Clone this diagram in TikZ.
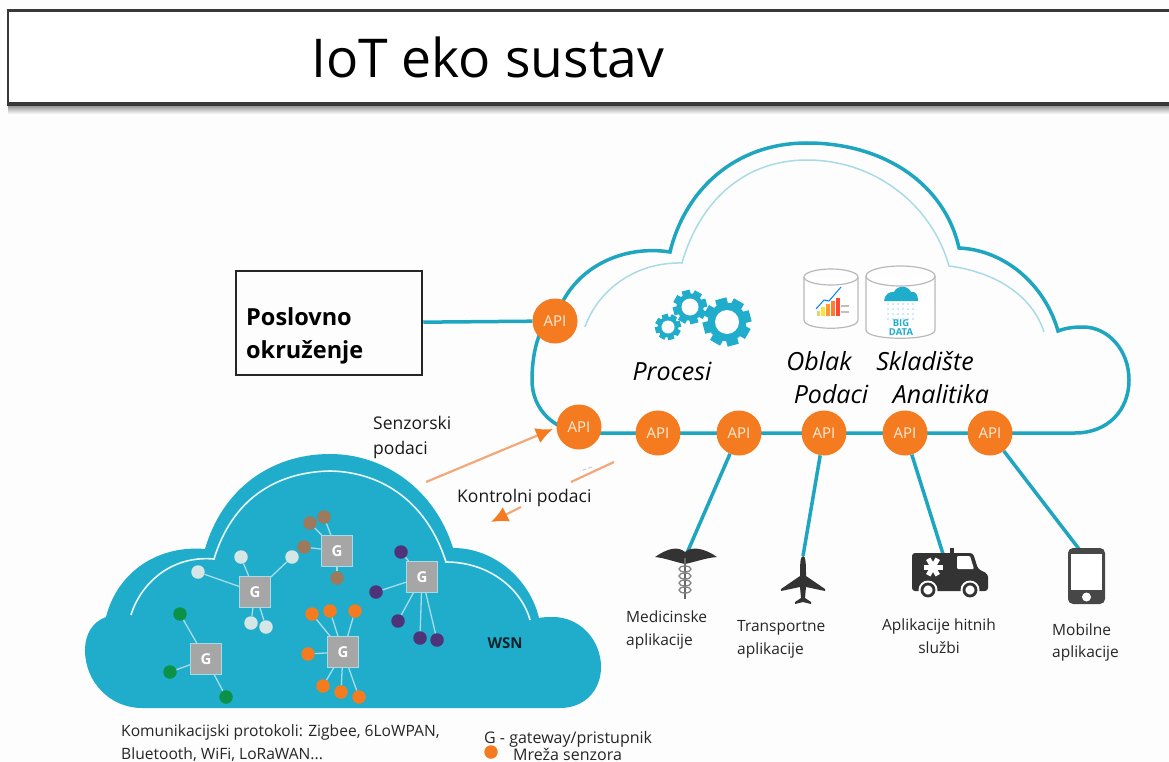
\documentclass[tikz,border=0pt]{standalone}
\usepackage{fontspec}
\setmainfont{Open Sans}
\usetikzlibrary{arrows.meta}
\definecolor{bgc}{HTML}{FDFDFD}
\definecolor{tealc}{HTML}{1EA5BF}
\definecolor{cloudc}{HTML}{1FADCB}
\definecolor{innerc}{HTML}{A9DBE6}
\definecolor{orangec}{HTML}{F47B20}
\definecolor{peachc}{HTML}{F2A878}
\definecolor{gatec}{HTML}{A6A6A6}
\definecolor{linkc}{HTML}{A8DCE8}
\definecolor{brownc}{HTML}{9C7A5B}
\definecolor{palec}{HTML}{D5E6E6}
\definecolor{purplec}{HTML}{4F3378}
\definecolor{greenc}{HTML}{0B9248}
\definecolor{darkc}{HTML}{333333}
\tikzset{
  apinode/.style={circle,fill=orangec,minimum size=45pt,inner sep=0pt,text=white!85!orange,font=\fontsize{15}{15}\selectfont},
  gate/.style={rectangle,fill=gatec,draw=innerc,line width=0.8pt,minimum size=31pt,inner sep=0pt,text=white,font=\fontsize{15}{15}\selectfont\bfseries},
  sensor/.style={circle,minimum size=13.5pt,inner sep=0pt},
  link/.style={draw=linkc,line width=1.3pt},
  appline/.style={draw=tealc,line width=3.5pt},
  label/.style={anchor=base west,inner sep=0pt,text=black!85,font=\fontsize{15.5}{15.5}\selectfont},
  clabel/.style={anchor=base,inner sep=0pt,text=black!85,font=\fontsize{15.5}{15.5}\selectfont},
  biglabel/.style={anchor=base west,inner sep=0pt,text=black!90,font=\fontsize{17.5}{17.5}\selectfont},
  cloudlabel/.style={anchor=base,inner sep=0pt,font=\fontsize{25}{25}\selectfont\itshape},
  boxlabel/.style={anchor=base west,inner sep=0pt,font=\fontsize{23.5}{23.5}\selectfont\bfseries},
  db/.style={draw=gray!55,line width=1.2pt},
  flow/.style={draw=peachc,line width=2.2pt},
  tiphead/.style={-{Latex[length=17pt,width=16pt,color=orangec]}},
}
\newcommand{\gearicon}[3]{%
  \begin{scope}[shift={(#1,#2)},scale=#3]
    \foreach \a in {0,45,...,315}{\fill[cloudc,rotate=\a+15] (-0.24,0.7) rectangle (0.24,1);}
    \fill[cloudc] (0,0) circle (0.8);
    \fill[bgc] (0,0) circle (0.5);
  \end{scope}}
\begin{document}
\begin{tikzpicture}[x=1pt,y=-1pt]
\useasboundingbox (0,0) rectangle (1169,762);
\fill[bgc] (0,0) rectangle (1169,762);
% title band
\shade[top color=black!45,bottom color=bgc] (8,105) rectangle (1169,114);
\fill[black!78] (7,9) rectangle (1169,106);
\fill[white] (9,12.5) rectangle (1169,102);
\node[anchor=base west,inner sep=0pt,font=\fontsize{53.5}{53.5}\selectfont] (title) at (311,78) {IoT eko sustav};
% upper cloud
\draw[tealc,line width=3.5pt] (590,433) -- (1075,433) .. controls (1108,433) and (1129,410) .. (1129,380) .. controls (1129,350) and (1108,327) .. (1083,327) .. controls (1073,327) and (1066,328) .. (1058,331) .. controls (1045,285) and (1005,250) .. (959,248) .. controls (945,185) and (885,143) .. (807,143) .. controls (735,143) and (685,190) .. (670,252) .. controls (625,245) and (580,265) .. (561,305) .. controls (540,320) and (532,350) .. (532,380) .. controls (532,410) and (555,433) .. (590,433);
\draw[innerc,line width=1.5pt] (585,327) .. controls (598,290) and (635,262) .. (682,263) .. controls (700,200) and (745,160) .. (807,160) .. controls (875,160) and (932,205) .. (949,266) .. controls (995,272) and (1032,295) .. (1044,332);
% lower cloud
\fill[cloudc] (142,708) -- (560,708) .. controls (585,708) and (601,690) .. (601,667) .. controls (601,640) and (580,617) .. (553,617) .. controls (548,617) and (543,617) .. (539,618) .. controls (530,580) and (495,548) .. (453,548) .. controls (435,490) and (385,454) .. (330,454) .. controls (270,454) and (222,490) .. (205,549) .. controls (160,545) and (118,570) .. (106,617) .. controls (92,622) and (85,635) .. (85,650) .. controls (85,682) and (110,708) .. (142,708) -- cycle;
\draw[white!90!cloudc,line width=1.6pt] (131,615) .. controls (140,585) and (170,555) .. (214,559) .. controls (232,500) and (275,472) .. (330,471) .. controls (385,472) and (428,505) .. (446,562) .. controls (490,562) and (522,590) .. (530,620);
% gears
\gearicon{668}{327}{13}
\gearicon{690}{307}{17}
\gearicon{727}{322}{24}
% databases
\draw[db,fill=white] (804,277) -- (804,320) .. controls (804,331) and (858,331) .. (858,320) -- (858,277);
\draw[db] (831,277) ellipse [x radius=27,y radius=8];
\draw[db,fill=white] (866,276) -- (866,330) .. controls (866,341) and (935,341) .. (935,330) -- (935,276);
\draw[db] (900.5,276) ellipse [x radius=34.5,y radius=10];
\fill[bgc] (860,338.5) rectangle (940,345);
% chart
\fill[yellow!60!gray,opacity=.8] (817,311) rectangle (820,316);
\fill[yellow!80!orange,opacity=.8] (821,307) rectangle (825,316);
\fill[orange,opacity=.8] (826,304) rectangle (830,316);
\fill[orange!70!red,opacity=.8] (831,301) rectangle (835,316);
\fill[red!80!orange,opacity=.8] (836,298) rectangle (840,316);
\fill[gray!50] (841,305) rectangle (849,307);
\fill[gray!50] (841,311) rectangle (849,313);
\draw[blue!50!cyan,line width=1pt] (816,309) -- (824,300) -- (829,301) -- (841,287);
% big data cloud
\fill[cloudc] (884,301) .. controls (884,295) and (890,291) .. (894,292) .. controls (897,285) and (908,285) .. (911,292) .. controls (916,291) and (918,295) .. (918,301) -- cycle;
\foreach \px in {888,893,...,914}{\foreach \py in {304,309,...,319}{\fill[cloudc!45] (\px,\py) circle (0.9);}}
\node[anchor=center,inner sep=0pt,align=center,text=cloudc,font=\fontsize{9.5}{9}\selectfont\bfseries] (bigdatatxt) at (901,328) {BIG\\DATA};
% labels in cloud
\node[cloudlabel] (proc) at (672,380) {Procesi};
\node[cloudlabel] (obl) at (819,370) {Oblak};
\node[cloudlabel] (skl) at (925,370) {Skladište};
\node[cloudlabel] (pod) at (831,403) {Podaci};
\node[cloudlabel] (ana) at (941,403) {Analitika};
% business box
\node[draw=black!85,line width=2.5pt,minimum width=186pt,minimum height=104pt,inner sep=0pt] (biz) at (329,323) {};
\node[boxlabel] (biz1) at (246,325) {Poslovno};
\node[boxlabel] (biz2) at (246,358) {okruženje};
% API nodes
\node[apinode] (a0) at (555,321) {API};
\node[apinode] (a1) at (579,427) {API};
\node[apinode] (a2) at (658,433) {API};
\node[apinode] (a3) at (739,433) {API};
\node[apinode] (a4) at (824,433) {API};
\node[apinode] (a5) at (905,433) {API};
\node[apinode] (a6) at (990,433) {API};
\draw[appline] (biz) -- (a0);
% app icons
\coordinate (capp1) at (687,553);
\coordinate (capp2) at (803,556);
\coordinate (capp3) at (943,554);
\coordinate (capp4) at (1079,549);
\draw[appline] (a3) -- (capp1);
\draw[appline] (a4) -- (capp2);
\draw[appline] (a5) -- (capp3);
\draw[appline] (a6) -- (capp4);
% caduceus
\fill[darkc] (685,552) .. controls (678,546) and (668,548) .. (655,557) .. controls (665,558) and (675,562) .. (685,564) .. controls (695,562) and (705,558) .. (717,557) .. controls (704,548) and (692,546) .. (685,552) -- cycle;
\draw[darkc!75,line width=2pt] (685,558) -- (685,599);
\foreach \yy in {569,576,583,590}{\draw[darkc!60,line width=1.3pt] (685,\yy) ellipse [x radius=6,y radius=3];}
% plane
\fill[darkc] (803,556) .. controls (806,556) and (806,566) .. (806,576) -- (825,589) -- (825,591) -- (806,587) -- (805,598) -- (811,602) -- (811,604) -- (803,602) -- (795,604) -- (795,602) -- (801,598) -- (800,587) -- (781,591) -- (781,589) -- (800,576) .. controls (800,566) and (800,556) .. (803,556) -- cycle;
% ambulance
\fill[darkc] (950,548) rectangle (954,555);
\fill[darkc,rounded corners=3pt] (912,553) -- (973,553) -- (978,569) -- (988,574) -- (988,591) -- (912,591) -- cycle;
\fill[white,rounded corners=1pt] (957,556) -- (970,556) -- (974,569) -- (957,569) -- cycle;
\foreach \ra in {0,60,120}{\draw[white,line width=5pt] (933,567) ++(\ra:9.5) -- ++(\ra+180:19);}
\foreach \wx in {928,970}{\fill[bgc] (\wx,590) circle (9.5); \draw[darkc,line width=2.8pt] (\wx,590) circle (6);}
% phone
\fill[darkc!90,rounded corners=5pt] (1068,548) rectangle (1105,604);
\fill[white] (1071,554) rectangle (1102,590);
\fill[white] (1086.5,597) circle (4.5);
% app labels
\node[label] (l1a) at (626,622) {Medicinske};
\node[label] (l1b) at (626,645) {aplikacije};
\node[label] (l2a) at (737,631) {Transportne};
\node[label] (l2b) at (737,654) {aplikacije};
\node[clabel] (l3a) at (939,630) {Aplikacije hitnih};
\node[clabel] (l3b) at (939,653) {službi};
\node[label] (l4a) at (1052,635) {Mobilne};
\node[label] (l4b) at (1052,657) {aplikacije};
% flows
\coordinate (f1s) at (426,482);
\coordinate (f1e) at (553,429);
\coordinate (f2s) at (614,462);
\coordinate (f2m) at (571,482);
\coordinate (f2a) at (592,467);
\coordinate (f2c) at (580,471);
\coordinate (f2b) at (521,507);
\coordinate (f2e) at (491,522);
\draw[flow,tiphead] (f1s) -- (f1e);
\draw[flow] (f2s) -- (f2m);
\draw[gray!40,line width=1pt,dash pattern=on 4pt off 2pt] (f2a) -- (f2c);
\draw[flow,tiphead] (f2b) -- (f2e);
\node[biglabel] (s1) at (373,429) {Senzorski};
\node[biglabel] (s2) at (373,454) {podaci};
\node[biglabel] (k1) at (457,502) {Kontrolni podaci};
% sensors
\foreach \n/\x/\y in {b1/324/517,b2/310/523,b3/304/547,b4/337/578}{\node[sensor,fill=brownc] (\n) at (\x,\y) {};}
\foreach \n/\x/\y in {p1/241/557,p2/292/557,p3/198/572,p4/251/623,p5/266/627}{\node[sensor,fill=palec] (\n) at (\x,\y) {};}
\foreach \n/\x/\y in {v1/401/552,v2/376/592,v3/398/621,v4/420/638,v5/437/640}{\node[sensor,fill=purplec] (\n) at (\x,\y) {};}
\foreach \n/\x/\y in {o1/312/614,o2/330/611,o3/355/611,o4/308/654,o5/323/686,o6/341/692,o7/359/697}{\node[sensor,fill=orangec] (\n) at (\x,\y) {};}
\foreach \n/\x/\y in {g1/180/614,g2/170/672,g3/226/697}{\node[sensor,fill=greenc] (\n) at (\x,\y) {};}
% gateways
\node[gate] (G1) at (337,551) {G};
\node[gate] (G2) at (255,592) {G};
\node[gate] (G3) at (422,577) {G};
\node[gate] (G4) at (343,652) {G};
\node[gate] (G5) at (206,659) {G};
\foreach \n in {b1,b2,b3,b4}{\draw[link] (G1) -- (\n);}
\foreach \n in {p1,p2,p3,p4,p5}{\draw[link] (G2) -- (\n);}
\foreach \n in {v1,v2,v3,v4,v5}{\draw[link] (G3) -- (\n);}
\foreach \n in {o1,o2,o3,o4,o5,o6,o7}{\draw[link] (G4) -- (\n);}
\foreach \n in {g1,g2,g3}{\draw[link] (G5) -- (\n);}
\node[anchor=base,inner sep=0pt,text=black!80!cloudc,font=\fontsize{15}{15}\selectfont\bfseries] (wsn) at (505,648) {WSN};
% bottom texts
\node[anchor=base west,inner sep=0pt,text=black!85,font=\fontsize{15.6}{15.6}\selectfont] (c1) at (121,736) {Komunikacijski protokoli: Zigbee, 6LoWPAN,};
\node[anchor=base west,inner sep=0pt,text=black!85,font=\fontsize{15.6}{15.6}\selectfont] (c2) at (121,759) {Bluetooth, WiFi, LoRaWAN...};
\node[anchor=base west,inner sep=0pt,text=black!85,font=\fontsize{16}{16}\selectfont] (g0) at (484,743) {G - gateway/pristupnik};
\node[sensor,fill=orangec] (leg) at (491,752) {};
\node[anchor=base west,inner sep=0pt,text=black!85,font=\fontsize{16}{16}\selectfont] (m0) at (513,760) {Mreža senzora};
\end{tikzpicture}
\end{document}
